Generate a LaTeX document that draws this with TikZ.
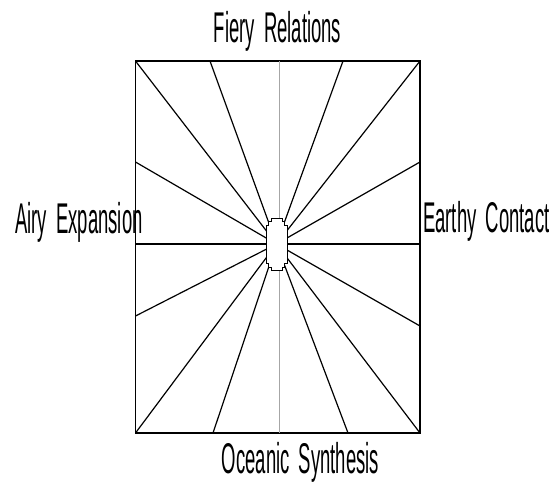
\documentclass[tikz,border=0pt]{standalone}
\usepackage{fontspec}
\newfontfamily\narrowsans[FakeStretch=0.43, WordSpace=1.8]{Liberation Sans}
\usetikzlibrary{positioning}

\begin{document}
\begin{tikzpicture}[
    x=1pt, y=-1pt,
    font=\narrowsans\fontsize{43}{43}\selectfont,
    frame/.style={draw, line width=1.1pt},
    ray/.style={line width=1.2pt},
    axisline/.style={draw=gray!70, line width=1pt},
    hubshape/.style={fill=white, draw, line width=0.9pt},
    side/.style={inner sep=0pt}
  ]
  \useasboundingbox (0,0) rectangle (556,485);
% frame and hub
  \coordinate (nw)  at (135.5,61);
  \coordinate (se)  at (420,433);
  \coordinate (hub) at (276.5,244);
  \draw[frame] (nw) rectangle (se);
% gray axis behind the rays
  \coordinate (axtop) at (279,61);
  \coordinate (axbot) at (279,433);
  \draw[axisline] (axtop) -- (axbot);
% rays from the hub to the frame
  \foreach \x/\y [count=\i] in {135.5/61, 210/61, 343/61, 420/61,
      420/162, 420/244, 420/326, 420/433,
      348/433, 213/433, 135.5/433,
      135.5/316, 135.5/244, 135.5/162} {
    \coordinate (r\i) at (\x,\y);
    \draw[ray] (hub) -- (r\i);
  }
% stepped hub on top
  \filldraw[hubshape, shift={(hub)}]
    (-5.5,-26) -- (5.5,-26) -- (5.5,-23) -- (8,-23) -- (8,-19) -- (10.5,-19)
    -- (10.5,19) -- (8,19) -- (8,23) -- (5.5,23) -- (5.5,26) -- (-5.5,26)
    -- (-5.5,23) -- (-8,23) -- (-8,19) -- (-10.5,19) -- (-10.5,-19)
    -- (-8,-19) -- (-8,-23) -- (-5.5,-23) -- cycle;
% labels
  \node[side, anchor=base]      (fire)  at (277.5,42) {Fiery Relations};
  \node[side, anchor=base]      (water) at (300.5,473) {Oceanic Synthesis};
  \node[side, anchor=base west] (air)   at (15,233) {Airy Expansion};
  \node[side, anchor=base west] (earth) at (423,232.5) {Earthy Contact};
\end{tikzpicture}
\end{document}
